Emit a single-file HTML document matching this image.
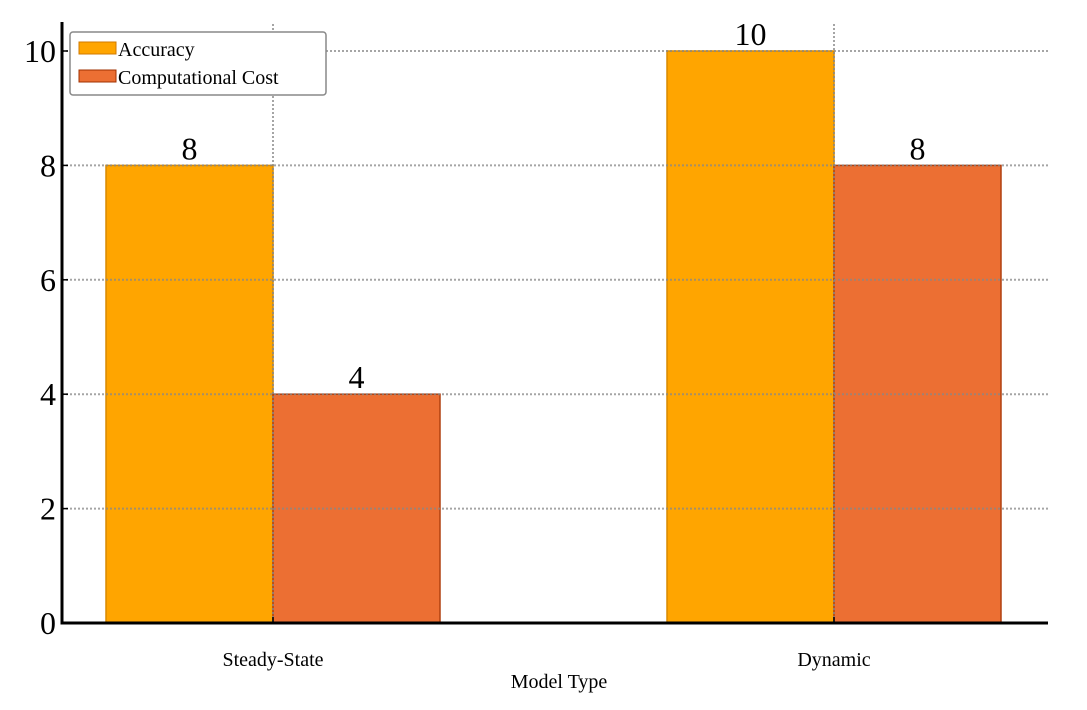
<!DOCTYPE html>
<html><head><meta charset="utf-8"><style>
body{margin:0;background:#fff;}
text{font-family:"Liberation Serif",serif;}
</style></head><body>
<svg id="chart" width="1087" height="705" xmlns="http://www.w3.org/2000/svg">
<g id="bars"></g>
<g id="grid"></g>
<g id="axes"></g>
<g id="legend">
<rect x="70" y="32" width="256" height="63" rx="3" fill="#fff" stroke="#888" stroke-width="1.5"/>
<rect x="79" y="42" width="37" height="12" fill="#FFA500" stroke="#d07a00"/>
<text x="118" y="56" font-size="20">Accuracy</text>
<rect x="79" y="70" width="37" height="12" fill="#EC6F33" stroke="#a03000"/>
<text x="118" y="84" font-size="20">Computational Cost</text>
</g>
<text x="559" y="688" font-size="20" text-anchor="middle">Model Type</text>
</svg>
<script>
const categories = ["Steady-State", "Dynamic"];
const accuracy = [8, 10];
const cost = [4, 8];
const yTicks = [0, 2, 4, 6, 8, 10];
const NS = "http://www.w3.org/2000/svg";
const y0 = 623, yPer = 57.2;
function yScale(v){ return y0 - v*yPer; }
const centers0 = 273, centerStep = 561, barW = 167;
function xCenter(i){ return centers0 + i*centerStep; }
function mk(tag, attrs, parent, txt){
  const e = document.createElementNS(NS, tag);
  for (const k in attrs) e.setAttribute(k, attrs[k]);
  if (txt !== undefined) e.textContent = txt;
  parent.appendChild(e);
  return e;
}
const bars = document.getElementById('bars');
const grid = document.getElementById('grid');
const axes = document.getElementById('axes');
const series = [
  {vals: accuracy, fill: "#FFA500", stroke: "#d88a00", off: -1, key: "accuracy"},
  {vals: cost, fill: "#EC6F33", stroke: "#b04010", off: 0, key: "cost"}
];
series.forEach(s => {
  s.vals.forEach((v, i) => {
    const x = xCenter(i) + s.off*barW;
    const r = mk('rect', {x: x, y: yScale(v), width: barW, height: y0 - yScale(v), fill: s.fill, stroke: s.stroke, 'stroke-width': 1.5}, bars);
    
    
    const t = mk('text', {x: x + barW/2, y: yScale(v) - 6, 'font-size': 32, 'text-anchor': 'middle'}, bars, String(v));
    
    
  });
});
yTicks.forEach(v => {
  if (v > 0) {
    const g = mk('line', {x1: 62, x2: 1048, y1: yScale(v), y2: yScale(v), stroke: '#888', 'stroke-width': 2, 'stroke-dasharray': '2,2', opacity: 0.75}, grid);
    
    
  }
  mk('line', {x1: 62, x2: 68, y1: yScale(v), y2: yScale(v), stroke: '#000', 'stroke-width': 1.5}, axes);
  const t = mk('text', {x: 56, y: yScale(v) + 11, 'font-size': 32, 'text-anchor': 'end'}, axes, String(v));
  
  
});
categories.forEach((c, i) => {
  const g = mk('line', {x1: xCenter(i), x2: xCenter(i), y1: 24, y2: y0, stroke: '#888', 'stroke-width': 2, 'stroke-dasharray': '2,2', opacity: 0.75}, grid);
  
  
  mk('line', {x1: xCenter(i), x2: xCenter(i), y1: y0, y2: y0 - 6, stroke: '#000', 'stroke-width': 1.5}, axes);
  const t = mk('text', {x: xCenter(i), y: 666, 'font-size': 20, 'text-anchor': 'middle'}, axes, c);
  
  
});
const ya = mk('line', {x1: 62, x2: 62, y1: 22, y2: y0 + 1.5, stroke: '#000', 'stroke-width': 3}, axes);


const xa = mk('line', {x1: 60.5, x2: 1048, y1: y0, y2: y0, stroke: '#000', 'stroke-width': 3}, axes);


</script>
</body></html>
